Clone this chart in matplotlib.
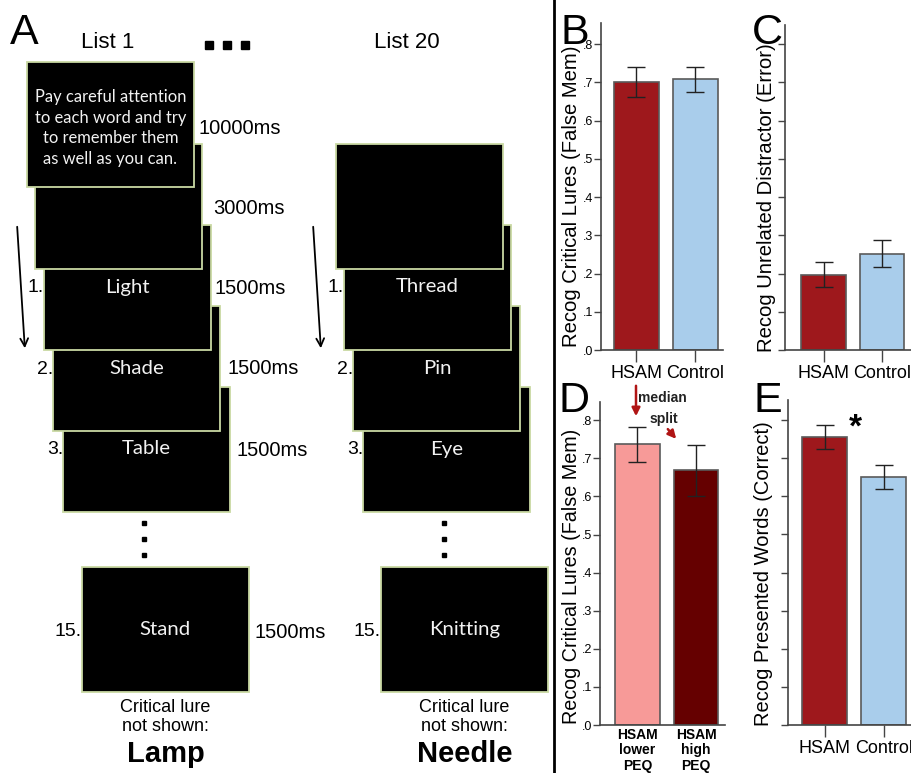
import matplotlib
matplotlib.use('Agg')
import matplotlib.pyplot as plt
from matplotlib.patches import Rectangle, FancyArrowPatch
import numpy as np

plt.rcParams['font.family'] = ['Liberation Sans', 'DejaVu Sans']

# ---- data ----
groups = ['HSAM', 'Control']
lures_mean = [0.701, 0.708]
lures_err = [0.039, 0.033]
distractor_mean = [0.197, 0.252]
distractor_err = [0.032, 0.035]
peq_labels = ['HSAM\nlower\nPEQ', 'HSAM\nhigh\nPEQ']
peq_mean = [0.737, 0.669]
peq_err = [0.046, 0.067]
presented_mean = [0.756, 0.651]
presented_err = [0.032, 0.031]
ytick_vals = [0, .1, .2, .3, .4, .5, .6, .7, .8]
ytick_labels = ['.0', '.1', '.2', '.3', '.4', '.5', '.6', '.7', '.8']

list1_words = ['Light', 'Shade', 'Table']
list20_words = ['Thread', 'Pin', 'Eye']
last_words = ['Stand', 'Knitting']
lures = ['Lamp', 'Needle']
instructions = 'Pay careful attention\nto each word and try\nto remember them\nas well as you can.'
timings = ['10000ms', '3000ms', '1500ms', '1500ms', '1500ms']

c_hsam = '#9e181c'
c_ctrl = '#a9cdeb'
c_low = '#f79a98'
c_high = '#650000'
c_edge = '#5a5a5a'
c_border = '#c9d9a3'
c_arrow = '#b01515'

W, H = 912, 773
fig = plt.figure(figsize=(W / 100, H / 100), dpi=100)


def px_axes(x0, x1, y0, y1):
    return fig.add_axes([x0 / W, (H - y1) / H, (x1 - x0) / W, (y1 - y0) / H])


def bar_panel(ax, means, errs, colors, xl, top, show_labels=True, xticks=True):
    x = np.arange(len(means))
    ax.bar(x, means, width=0.76, color=colors, edgecolor=c_edge, linewidth=1.2, zorder=2)
    ax.errorbar(x, means, yerr=errs, fmt='none', ecolor='#222222', elinewidth=1,
                capsize=6.5, capthick=1, zorder=3)
    ax.set_xlim(*xl)
    ax.set_ylim(0, top)
    for s in ['top', 'right']:
        ax.spines[s].set_visible(False)
    for s in ['left', 'bottom']:
        ax.spines[s].set_color('#444444')
        ax.spines[s].set_linewidth(1.2)
    ax.set_yticks(ytick_vals)
    if show_labels:
        ax.set_yticklabels(ytick_labels, fontsize=9)
    else:
        ax.set_yticklabels([])
    ax.tick_params(axis='y', direction='out', length=5, width=1, color='#444444', pad=0.8)
    ax.set_xticks(x)
    ax.tick_params(axis='x', direction='out', length=8.5 if xticks else 0, width=1,
                   color='#444444', pad=2)
    ax.patch.set_visible(False)


# B
axB = px_axes(601, 723, 23, 350)
bar_panel(axB, lures_mean, lures_err, [c_hsam, c_ctrl], (-0.60, 1.47), 0.855)
axB.set_xticklabels(groups, fontsize=13)
# C
axC = px_axes(785, 912, 25, 350)
bar_panel(axC, distractor_mean, distractor_err, [c_hsam, c_ctrl], (-0.658, 1.51), 0.85,
          show_labels=False)
axC.set_xticklabels(groups, fontsize=13)
# D
axD = px_axes(600, 725, 402, 725)
bar_panel(axD, peq_mean, peq_err, [c_low, c_high], (-0.64, 1.496), 0.848, xticks=False)
axD.set_xticklabels(peq_labels, fontsize=10, fontweight='bold', linespacing=1.15)
# E
axE = px_axes(788, 912, 400, 725)
bar_panel(axE, presented_mean, presented_err, [c_hsam, c_ctrl], (-0.619, 1.48), 0.853,
          show_labels=False)
axE.set_xticklabels(groups, fontsize=13)

# ---- overlay in pixel coordinates ----
ov = fig.add_axes([0, 0, 1, 1])
ov.set_xlim(0, W)
ov.set_ylim(H, 0)
ov.axis('off')

# y labels
ov.text(572, 196, 'Recog Critical Lures (False Mem)', rotation=90, fontsize=14.6,
        ha='center', va='center')
ov.text(767, 198, 'Recog Unrelated Distractor (Error)', rotation=90, fontsize=14.6,
        ha='center', va='center')
ov.text(572, 576, 'Recog Critical Lures (False Mem)', rotation=90, fontsize=14.2,
        ha='center', va='center')
ov.text(764, 574, 'Recog Presented Words (Correct)', rotation=90, fontsize=14.5,
        ha='center', va='center')

# panel letters
for lab, x, y in [('A', 10, 44), ('B', 561, 44), ('C', 752, 44), ('D', 559, 412), ('E', 754, 412)]:
    ov.text(x, y, lab, fontsize=31, ha='left', va='baseline')

# separator
ov.plot([554, 554], [0, H], color='black', lw=2)

# median split arrows
ov.add_patch(FancyArrowPatch((636, 383), (636, 419), arrowstyle='-|>', mutation_scale=12,
                             color=c_arrow, lw=1.8))
ov.add_patch(FancyArrowPatch((666, 427), (678, 441), arrowstyle='-|>', mutation_scale=12,
                             color=c_arrow, lw=1.8))
ov.text(662, 398, 'median', fontsize=10, fontweight='bold', color='#222222', ha='center', va='center')
ov.text(664, 419, 'split', fontsize=10, fontweight='bold', color='#222222', ha='center', va='center')
ov.text(855, 428, '*', fontsize=24, fontweight='bold', ha='center', va='center')

# ---- panel A ----
box_w, box_h = 167, 125
word_font = ['Lato', 'DejaVu Sans']


def screen(x, y, text=None, z=1, fs=14.7):
    ov.add_patch(Rectangle((x, y), box_w, box_h, facecolor='black', edgecolor=c_border,
                           lw=1.3, zorder=z))
    if text:
        ov.text(x + box_w / 2, y + box_h / 2, text, color='#f2f2f2', fontsize=fs,
                family=word_font, ha='center', va='center', zorder=z + 0.1)


ov.text(108, 43, 'List 1', fontsize=16, ha='center', va='center')
ov.text(407, 43, 'List 20', fontsize=16, ha='center', va='center')
ov.plot([209, 227.5, 245.5], [45, 45, 45], 's', color='black', ms=5.8)

for col, (x0, words, last, lure) in enumerate([(27, list1_words, last_words[0], lures[0]),
                                                (327, list20_words, last_words[1], lures[1])]):
    # instruction / blank screens
    if col == 0:
        screen(x0, 62, None, z=20)
        ov.text(x0 + box_w / 2, 128, instructions, color='#f2f2f2', fontsize=11.9,
                family=word_font, ha='center', va='center', linespacing=1.37, zorder=20.1)
        screen(x0 + 8, 144, None, z=19)
    else:
        screen(x0 + 9, 144, None, z=19)
    for i, w in enumerate(words):
        bx = x0 + 17 + 9.5 * i
        by = 225 + 81 * i
        screen(bx, by, None, z=18 - i)
        ov.text(bx + box_w / 2, by + 62, w, color='#f2f2f2', fontsize=14.7,
                family=word_font, ha='center', va='center', zorder=18.1 - i)
        ov.text(bx, by + 63, f'{i + 1}.', fontsize=14, ha='right', va='center')
    # dots
    dx = x0 + 117
    ov.plot([dx, dx, dx], [523, 539, 555], 's', color='black', ms=3.5)
    lx = x0 + 55 if col == 0 else x0 + 54
    screen(lx, 567, last, z=10)
    ov.text(lx, 631, '15.', fontsize=14, ha='right', va='center')
    ov.text(lx + box_w / 2, 717, 'Critical lure\nnot shown:', fontsize=13, ha='center',
            va='center', linespacing=1.2)
    ov.text(lx + box_w / 2, 754, lure, fontsize=21, fontweight='bold', ha='center', va='center')
    # arrow
    ax0 = 17 if col == 0 else 313
    ov.annotate('', xy=(ax0 + 8, 351), xytext=(ax0, 224),
                arrowprops=dict(arrowstyle='->', color='black', lw=1.3, mutation_scale=14))

# timings for list 1
for t, (x, y) in zip(timings, [(199, 129), (213, 209), (215, 289), (228, 369), (237, 450)]):
    ov.text(x, y, t, fontsize=14.5, ha='left', va='center')
ov.text(255, 632, '1500ms', fontsize=14.5, ha='left', va='center')

fig.savefig('out.png', dpi=100)
